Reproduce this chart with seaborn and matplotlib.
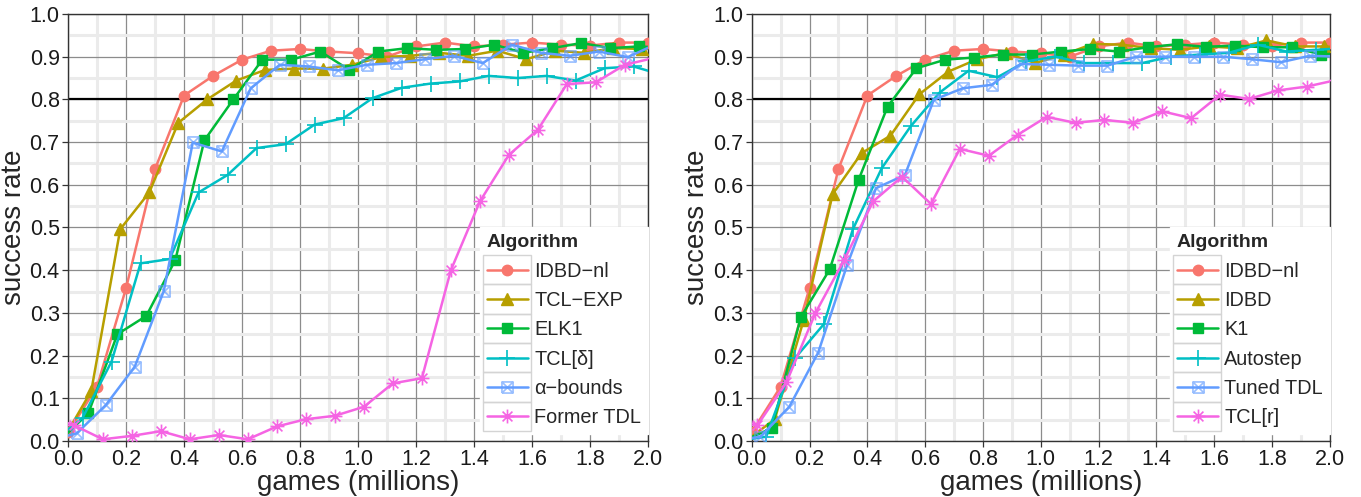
import numpy as np
import pandas as pd
import matplotlib
matplotlib.use('Agg')
import matplotlib.pyplot as plt
from matplotlib.path import Path
from matplotlib.patches import Rectangle
from matplotlib.transforms import IdentityTransform
from matplotlib.ticker import MultipleLocator, FormatStrFormatter
import seaborn as sns

# games (millions) sampled every 0.1, each series is dodged a bit on x
games = [0.0, 0.1, 0.2, 0.3, 0.4, 0.5, 0.6, 0.7, 0.8, 0.9, 1.0,
         1.1, 1.2, 1.3, 1.4, 1.5, 1.6, 1.7, 1.8, 1.9, 2.0, 2.1]

idbd_nl = [0.02, 0.127, 0.358, 0.637, 0.809, 0.855, 0.893, 0.914, 0.918, 0.912, 0.908,
           0.900, 0.924, 0.933, 0.924, 0.928, 0.933, 0.928, 0.926, 0.933, 0.933, 0.930]

# left panel
tcl_exp = [0.0, 0.117, 0.496, 0.582, 0.745, 0.800, 0.844, 0.869, 0.872, 0.872, 0.881,
           0.899, 0.902, 0.909, 0.902, 0.914, 0.894, 0.914, 0.909, 0.920, 0.918, 0.920]
elk1 = [0.0, 0.065, 0.250, 0.293, 0.424, 0.704, 0.800, 0.893, 0.893, 0.912, 0.869,
        0.912, 0.920, 0.916, 0.918, 0.928, 0.909, 0.920, 0.932, 0.920, 0.924, 0.920]
tcl_delta = [0.0, 0.054, 0.186, 0.416, 0.426, 0.582, 0.623, 0.686, 0.695, 0.741, 0.756,
             0.803, 0.827, 0.837, 0.842, 0.855, 0.850, 0.855, 0.844, 0.873, 0.877, 0.857]
alpha_bounds = [0.0, 0.018, 0.084, 0.174, 0.351, 0.699, 0.678, 0.826, 0.881, 0.877, 0.868,
                0.881, 0.885, 0.894, 0.902, 0.885, 0.928, 0.909, 0.902, 0.912, 0.899, 0.930]
former_tdl = [0.06, 0.037, 0.004, 0.012, 0.023, 0.004, 0.014, 0.004, 0.034, 0.051, 0.059,
              0.080, 0.135, 0.147, 0.400, 0.561, 0.670, 0.729, 0.836, 0.840, 0.881, 0.897]

# right panel
idbd = [0.0, 0.051, 0.284, 0.578, 0.674, 0.715, 0.812, 0.865, 0.894, 0.909, 0.885,
        0.905, 0.930, 0.928, 0.920, 0.916, 0.924, 0.920, 0.938, 0.924, 0.924, 0.920]
k1 = [0.0, 0.030, 0.290, 0.402, 0.612, 0.783, 0.873, 0.893, 0.898, 0.905, 0.905,
      0.912, 0.918, 0.912, 0.922, 0.929, 0.923, 0.926, 0.922, 0.922, 0.905, 0.910]
autostep = [0.0, 0.010, 0.194, 0.274, 0.496, 0.639, 0.737, 0.816, 0.867, 0.852, 0.889,
            0.900, 0.885, 0.885, 0.885, 0.900, 0.905, 0.909, 0.928, 0.912, 0.916, 0.920]
tuned_tdl = [0.0, 0.010, 0.080, 0.207, 0.412, 0.592, 0.623, 0.799, 0.826, 0.834, 0.883,
             0.881, 0.879, 0.879, 0.900, 0.900, 0.900, 0.900, 0.894, 0.887, 0.902, 0.900]
tcl_r = [0.06, 0.037, 0.137, 0.299, 0.424, 0.561, 0.619, 0.555, 0.684, 0.668, 0.717,
         0.759, 0.745, 0.752, 0.745, 0.772, 0.756, 0.811, 0.801, 0.821, 0.830, 0.845]

labels_left = ['IDBD\u2212nl', 'TCL\u2212EXP', 'ELK1', 'TCL[\u03b4]', '\u03b1\u2212bounds', 'Former TDL']
labels_right = ['IDBD\u2212nl', 'IDBD', 'K1', 'Autostep', 'Tuned TDL', 'TCL[r]']
dodge = [0.0, -0.02, -0.03, -0.05, -0.07, -0.08]

colors = ['#F8766D', '#B79F00', '#00BA38', '#00BFC4', '#619CFF', '#F564E3']

# ggplot-like square-cross and asterisk shapes
M, L = Path.MOVETO, Path.LINETO
boxx = Path([(-1, -1), (1, -1), (1, 1), (-1, 1), (-1, -1), (-1, -1), (1, 1), (-1, 1), (1, -1)],
            [M, L, L, L, L, M, L, M, L])
d = 0.707
aster = Path([(0, -1), (0, 1), (-1, 0), (1, 0), (-d, -d), (d, d), (-d, d), (d, -d)],
             [M, L, M, L, M, L, M, L])
markers = ['o', '^', 's', '+', boxx, aster]
msizes = [7.5, 9, 7.5, 12, 8, 10]
filled = [True, True, True, False, False, False]

sns.set_style('white')
plt.rcParams['font.family'] = ['Liberation Sans', 'DejaVu Sans']

fig = plt.figure(figsize=(13.61, 4.97), dpi=100)
ax1 = fig.add_axes([0.0500, 0.1127, 0.4262, 0.8592])
ax2 = fig.add_axes([0.5523, 0.1127, 0.4249, 0.8592])

panels = [(ax1, [idbd_nl, tcl_exp, elk1, tcl_delta, alpha_bounds, former_tdl], labels_left),
          (ax2, [idbd_nl, idbd, k1, autostep, tuned_tdl, tcl_r], labels_right)]

legends = []
for ax, series, labels in panels:
    for i in range(6):
        df = pd.DataFrame({'games': np.array(games) + dodge[i], 'rate': series[i]})
        c = colors[i]
        if i == 4:
            mec = matplotlib.colors.to_rgba(c, 0.65)
        else:
            mec = c
        sns.lineplot(data=df, x='games', y='rate', ax=ax, color=c, lw=1.8,
                     marker=markers[i], markersize=msizes[i],
                     markerfacecolor=c if filled[i] else 'none',
                     markeredgecolor=mec, markeredgewidth=1.0 if filled[i] else 1.2,
                     label=labels[i], zorder=3 + i)
    ax.axhline(0.8, color='black', lw=1.6, zorder=2)

    ax.set_xlim(0, 2)
    ax.set_ylim(0, 1)
    ax.xaxis.set_major_locator(MultipleLocator(0.2))
    ax.xaxis.set_minor_locator(MultipleLocator(0.1))
    ax.yaxis.set_major_locator(MultipleLocator(0.1))
    ax.yaxis.set_minor_locator(MultipleLocator(0.05))
    ax.xaxis.set_major_formatter(FormatStrFormatter('%.1f'))
    ax.yaxis.set_major_formatter(FormatStrFormatter('%.1f'))
    ax.grid(which='minor', color='#ebebeb', lw=2.2, zorder=0)
    ax.grid(which='major', color='#8c8c8c', lw=0.9, zorder=1)
    ax.set_axisbelow(True)
    ax.tick_params(which='major', direction='out', length=4, width=0.9, color='#333333',
                   labelsize=15.5, labelcolor='#1a1a1a', pad=2, bottom=True, left=True)
    ax.tick_params(which='minor', length=0)
    for s in ax.spines.values():
        s.set_color('#333333')
        s.set_linewidth(1.0)
    ax.set_xlabel('games (millions)', fontsize=20, labelpad=0)
    ax.set_ylabel('success rate', fontsize=20, labelpad=2)

    leg = ax.legend(loc='lower right', bbox_to_anchor=(1.0, 0.016), title='Algorithm',
                    fontsize=14.3, title_fontproperties={'weight': 'bold', 'size': 14},
                    alignment='left', frameon=True, fancybox=False,
                    facecolor='white', edgecolor='white', framealpha=1,
                    borderaxespad=0.0, borderpad=0.35, labelspacing=0.52,
                    handlelength=2.1, handletextpad=0.3)
    leg.set_zorder(20)
    legends.append((ax, leg))

# grey boxes around the legend keys, like ggplot's legend.key
fig.canvas.draw()
renderer = fig.canvas.get_renderer()
for ax, leg in legends:
    rows = leg._legend_handle_box.get_children()[0].get_children()
    boxes = [r.get_children()[0].get_window_extent(renderer) for r in rows]
    pitch = (boxes[0].y0 - boxes[-1].y0) / (len(boxes) - 1)
    for bb in boxes:
        cy = (bb.y0 + bb.y1) / 2
        rect = Rectangle((bb.x0 - 4, cy - pitch / 2), bb.width + 7, pitch,
                         transform=IdentityTransform(), facecolor='none',
                         edgecolor='#d4d4d4', lw=1.0, zorder=21)
        ax.add_patch(rect)

fig.savefig('out.png', dpi=100)
